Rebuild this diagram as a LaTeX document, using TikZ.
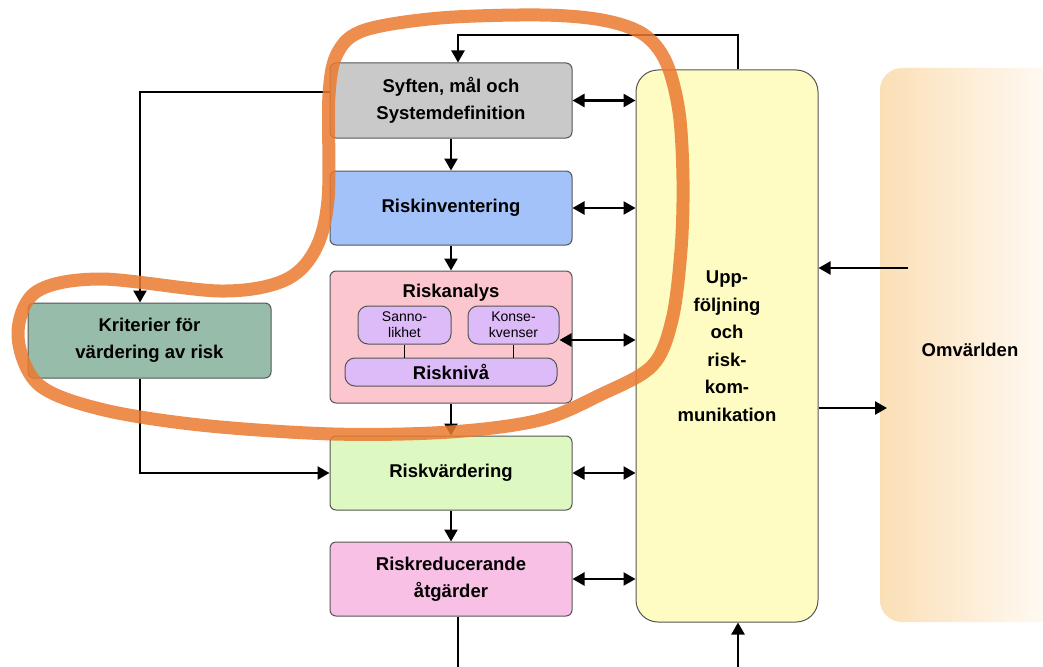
\documentclass[tikz,border=0pt]{standalone}
\usepackage{fontspec}
\setmainfont{Liberation Sans}
\usetikzlibrary{arrows.meta,calc}
\definecolor{gr}{HTML}{C9C9C9}
\definecolor{bl}{HTML}{A4C2FA}
\definecolor{pk}{HTML}{FBC6CD}
\definecolor{lav}{HTML}{DDBAF8}
\definecolor{sage}{HTML}{98BCAA}
\definecolor{lg}{HTML}{DDF8C0}
\definecolor{mg}{HTML}{F9C0E6}
\definecolor{yl}{HTML}{FEFCC2}
\definecolor{omvc}{HTML}{FBDFB6}
\definecolor{org}{HTML}{EB7A30}
\definecolor{bd}{HTML}{555555}
\begin{document}
\begin{tikzpicture}[x=1pt,y=-1pt,
  box/.style={draw=bd, line width=1pt, rounded corners=6pt, font=\fontsize{18.5}{27}\selectfont\bfseries, align=center, inner sep=0pt},
  sub/.style={draw=bd, line width=1pt, rounded corners=10pt, fill=lav, align=center, inner sep=0pt},
  arr/.style={-{Triangle[length=12pt,width=13pt]}, line width=2.4pt},
  darr/.style={{Triangle[length=12pt,width=13pt]}-{Triangle[length=12pt,width=13pt]}, line width=2.4pt},
  ln/.style={line width=2.4pt},
  band/.style={draw=org, line width=13pt, opacity=0.85, line join=round}]
\clip (0,0) rectangle (1043,666);
\fill[white] (0,0) rectangle (1043,666);
% Omvärlden
\node[left color=omvc, right color=white, rounded corners=22pt, minimum width=200pt, minimum height=554pt, inner sep=0pt] (omv) at (980,345) {};
\node[font=\fontsize{18.5}{20}\selectfont\bfseries] (omvt) at (970,350) {Omvärlden};
% main boxes
\node[box, fill=gr, minimum width=242pt, minimum height=75pt] (syf) at (451,100.5) {Syften, mål och\\Systemdefinition};
\node[box, fill=bl, minimum width=242pt, minimum height=74pt] (inv) at (451,208) {Riskinventering};
\node[box, fill=pk, minimum width=242pt, minimum height=132pt] (ana) at (451,337) {};
\node[font=\fontsize{18.5}{20}\selectfont\bfseries] (anat) at (451,293) {Riskanalys};
\node[sub, minimum width=93pt, minimum height=38pt, font=\fontsize{14}{16}\selectfont] (san) at (404.5,325) {Sanno-\\likhet};
\node[sub, minimum width=91pt, minimum height=38pt, font=\fontsize{14}{16}\selectfont] (kon) at (513.5,325) {Konse-\\kvenser};
\node[sub, minimum width=212pt, minimum height=28pt, font=\fontsize{18.5}{20}\selectfont\bfseries] (niv) at (451,372) {Risknivå};
\node[box, fill=sage, minimum width=243pt, minimum height=75pt] (kri) at (149.5,340.5) {Kriterier för\\värdering av risk};
\node[box, fill=lg, minimum width=242pt, minimum height=74pt] (var) at (451,473) {Riskvärdering};
\node[box, fill=mg, minimum width=242pt, minimum height=74pt] (red) at (451,579) {Riskreducerande\\åtgärder};
\node[box, fill=yl, rounded corners=22pt, font=\fontsize{18.5}{27.5}\selectfont\bfseries, minimum width=182pt, minimum height=552pt] (upp) at (727,346) {Upp-\\följning\\och\\risk-\\kom-\\munikation};
% connectors
\draw[line width=1.6pt] (san.south) -- (san.south |- niv.north);
\draw[line width=1.6pt] (kon.south) -- (kon.south |- niv.north);
\coordinate (top) at (0,35);
\draw[arr] ([xshift=11pt]upp.north) -- ([xshift=11pt]upp.north |- top) -| ([xshift=7pt]syf.north);
\draw[arr] (syf.south) -- (inv.north);
\draw[arr] (inv.south) -- (ana.north);
\draw[arr] (ana.south) -- (var.north);
\draw[arr] (var.south) -- (red.north);
\draw[arr] ([yshift=8.5pt]syf.west) -| ([xshift=-9.5pt]kri.north);
\draw[arr] ([xshift=-9.5pt]kri.south) |- (var.west);
\draw[darr] (syf.east) -- (syf.east -| upp.west);
\draw[darr] (inv.east) -- (inv.east -| upp.west);
\draw[darr] ([yshift=-15pt]kon.east) -- ([yshift=-15pt]kon.east -| upp.west);
\draw[darr] (var.east) -- (var.east -| upp.west);
\draw[darr] (red.east) -- (red.east -| upp.west);
\coordinate (rb) at (458,680);
\draw[ln] ([xshift=7pt]red.south) -- (rb);
\coordinate (ub) at (738,680);
\draw[arr] (ub) -- (ub |- upp.south);
\coordinate (o1) at (908,268);
\draw[arr] (o1) -- (o1 -| upp.east);
\coordinate (o2) at (887,408);
\draw[arr] (upp.east |- o2) -- (o2);
% orange highlight
\draw[band] plot[smooth cycle, tension=0.55] coordinates {(328,200) (329,95) (338,52) (365,30) (440,18) (540,15) (602,20) (643,34) (666,62) (679,112) (683,180) (681,250) (672,320) (652,366) (600,395) (540,420) (450,432) (333,434) (200,425) (100,409) (38,384) (18,335) (36,292) (100,279) (220,291) (283,281) (314,252)};
\end{tikzpicture}
\end{document}
